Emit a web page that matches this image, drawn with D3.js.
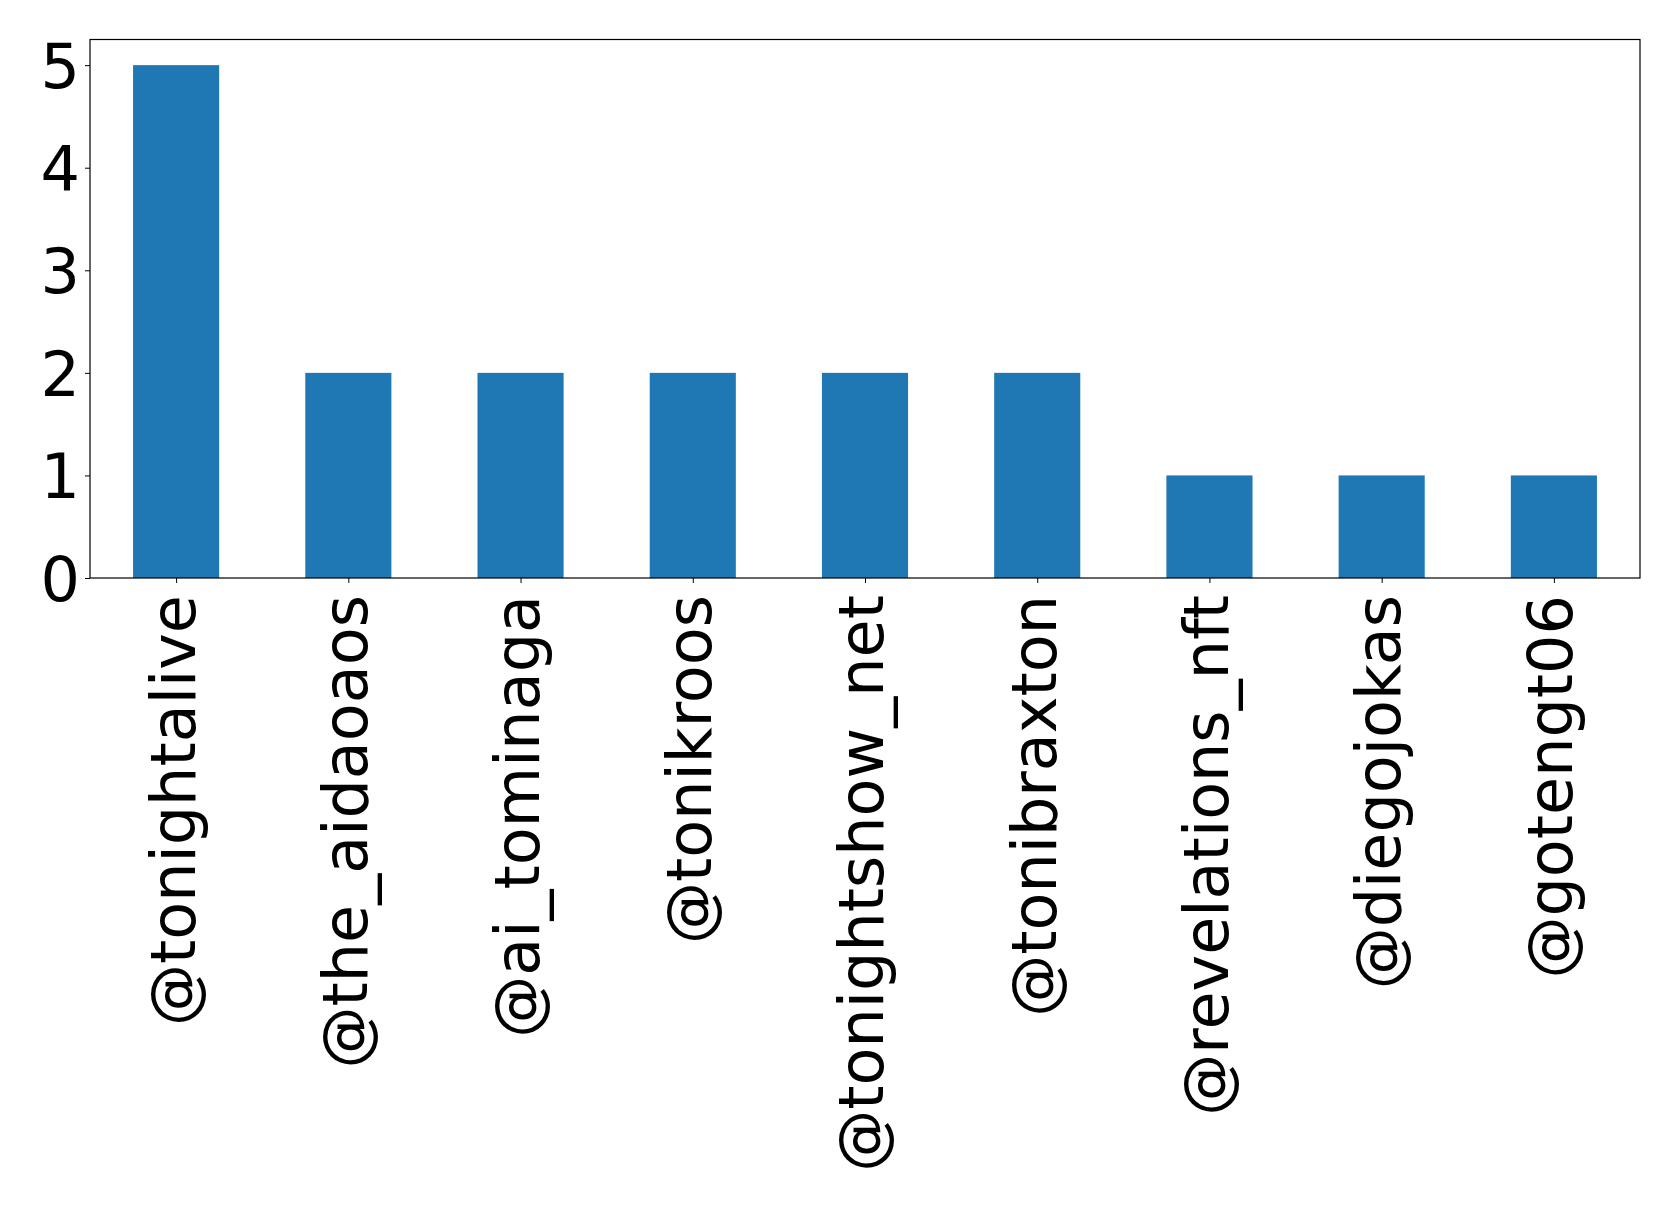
<!DOCTYPE html>
<html>
<head>
<meta charset="utf-8">
<script src="https://d3js.org/d3.v7.min.js"></script>
<style>
  body { margin: 0; background: #fff; }
  text { font-family: "DejaVu Sans", sans-serif; fill: #000; }
</style>
</head>
<body>
<div id="bar-chart"></div>
<script>
// data
var handles = ["@tonightalive", "@the_aidaoaos", "@ai_tominaga", "@tonikroos",
               "@tonightshow_net", "@tonibraxton", "@revelations_nft",
               "@diegojokas", "@gotengt06"];
var counts = [5, 2, 2, 2, 2, 2, 1, 1, 1];
var yTicks = [0, 1, 2, 3, 4, 5];

// set the dimensions and margins of the graph
var margin = {top: 39.5, right: 39, bottom: 631, left: 90},
    chwidth = 1679 - margin.left - margin.right,
    chheight = 1209 - margin.top - margin.bottom;

var fontSize = 62;

// set the ranges (pandas style: categories at 0..n-1, padded by half a step)
var x = d3.scaleLinear().domain([-0.5, handles.length - 0.5]).range([0, chwidth]);
var y = d3.scaleLinear().domain([0, d3.max(counts) * 1.05]).range([chheight, 0]);

var chsvg = d3.select("#bar-chart").append("svg")
    .attr("width", 1679)
    .attr("height", 1209)
  .append("g")
    .attr("transform", "translate(" + margin.left + "," + margin.top + ")");

// bars
chsvg.selectAll("rect.bar")
    .data(counts)
  .enter().append("rect")
    .attr("class", "bar")
    .attr("x", function(d, i) { return x(i - 0.25); })
    .attr("width", x(0.25) - x(-0.25))
    .attr("y", function(d) { return y(d); })
    .attr("height", function(d) { return chheight - y(d); })
    .style("fill", "#1f77b4");

// Add the Y Axis
var yAxis = chsvg.append("g")
    .call(d3.axisLeft(y).tickValues(yTicks).tickFormat(d3.format("d"))
      .tickSize(5).tickPadding(5));
yAxis.select(".domain").remove();
yAxis.selectAll("line").style("stroke", "#000").style("stroke-width", 1);
yAxis.selectAll("text")
    .style("font-size", fontSize + "px")
    .style("font-family", "'DejaVu Sans', sans-serif")
    .attr("dy", "0.36em");

// Add the X Axis
var xAxis = chsvg.append("g")
    .attr("transform", "translate(0," + chheight + ")")
    .call(d3.axisBottom(x).tickValues(d3.range(handles.length))
      .tickFormat(function(i) { return handles[i]; })
      .tickSize(5).tickPadding(5));
xAxis.select(".domain").remove();
xAxis.selectAll("line").style("stroke", "#000").style("stroke-width", 1);
xAxis.selectAll("text")
    .style("font-size", fontSize + "px")
    .style("font-family", "'DejaVu Sans', sans-serif")
    .attr("text-anchor", "end")
    .attr("transform", "rotate(-90)")
    .attr("x", -17)
    .attr("y", 0)
    .attr("dy", "0.29em");

// axes frame
chsvg.append("rect")
    .attr("width", chwidth)
    .attr("height", chheight)
    .style("fill", "none")
    .style("stroke", "#000")
    .style("stroke-width", 1.2);
</script>
</body>
</html>
